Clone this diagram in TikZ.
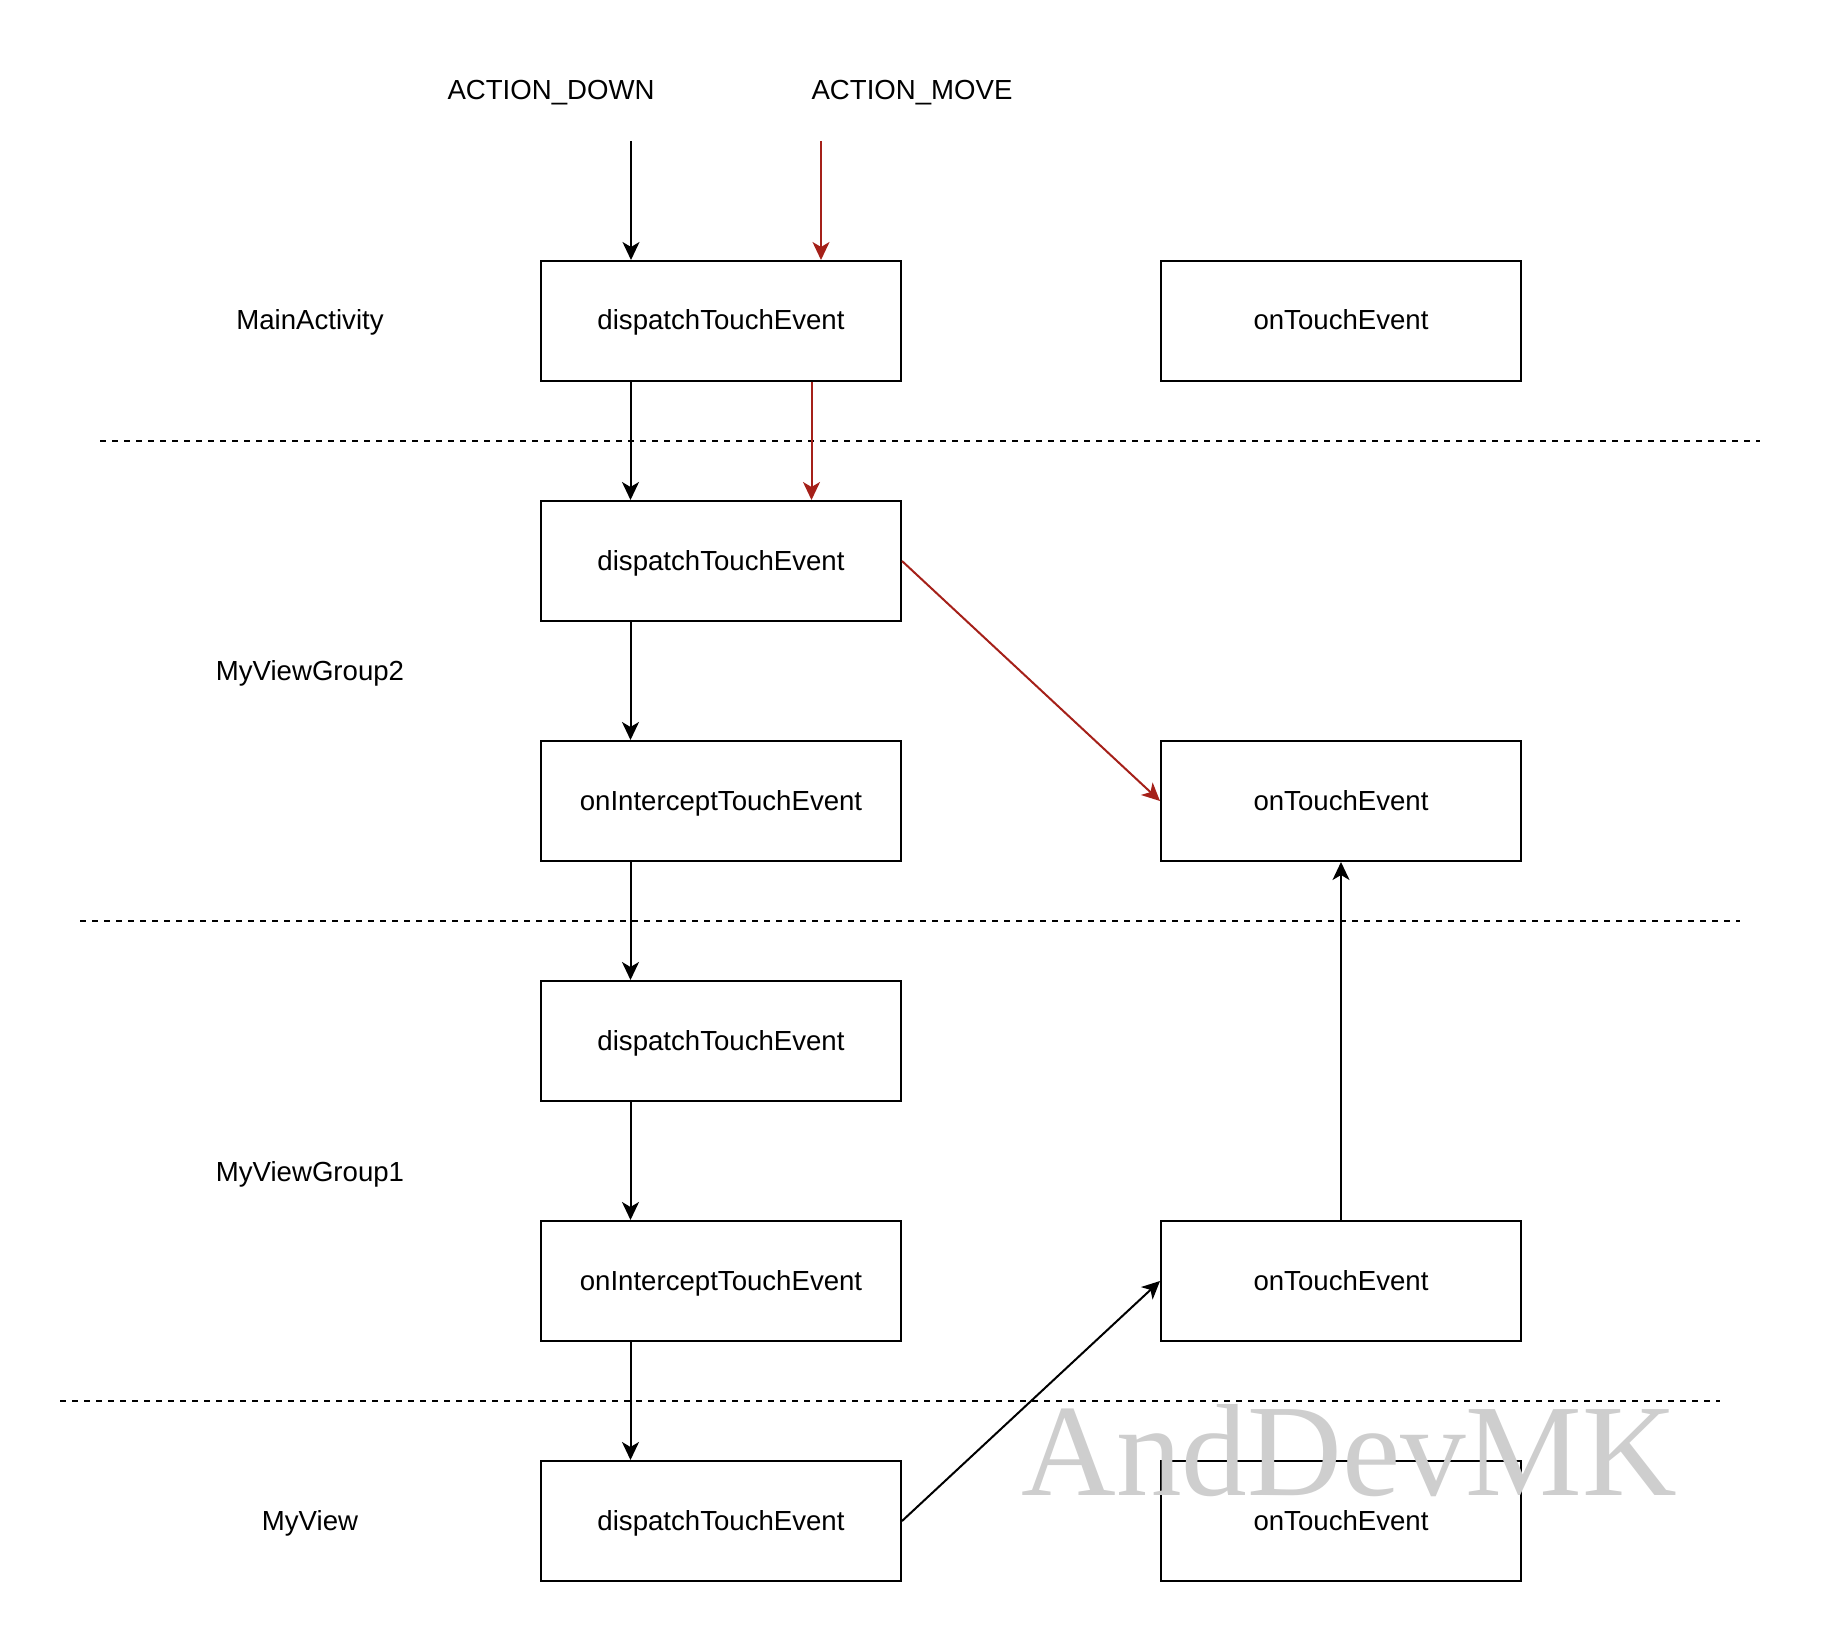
\documentclass[tikz,border=0pt]{standalone}
\usepackage{fontspec}
\setmainfont{Liberation Sans}
\newfontfamily\wmfont{Liberation Serif}
\usetikzlibrary{arrows.meta,calc}
\definecolor{arrred}{RGB}{165,32,25}
\definecolor{wmgray}{RGB}{206,206,206}
\tikzset{
  fnbox/.style={draw=black, line width=1pt, rectangle, minimum width=180pt, minimum height=60pt, inner sep=0pt, text height=9.5pt, text depth=0.5pt, font=\fontsize{13.8pt}{16pt}\selectfont},
  lbl/.style={inner sep=0pt, text height=9.5pt, text depth=0.5pt, font=\fontsize{13.8pt}{16pt}\selectfont},
  arr/.style={line width=1pt, -{Stealth[length=9pt,width=8.5pt,inset=2.5pt]}},
  redarr/.style={arr, draw=arrred, color=arrred},
  sep/.style={line width=1pt, dash pattern=on 3pt off 3pt}
}
\begin{document}
\begin{tikzpicture}[x=0.5pt,y=-0.5pt]
\useasboundingbox (0,0) rectangle (1824,1642);
% left column
\node[fnbox] (b1) at (721,321) {dispatchTouchEvent};
\node[fnbox] (b2) at (721,561) {dispatchTouchEvent};
\node[fnbox] (b3) at (721,801) {onInterceptTouchEvent};
\node[fnbox] (b4) at (721,1041) {dispatchTouchEvent};
\node[fnbox] (b5) at (721,1281) {onInterceptTouchEvent};
\node[fnbox] (b6) at (721,1521) {dispatchTouchEvent};
% right column
\node[fnbox] (r1) at (1341,321) {onTouchEvent};
\node[fnbox] (r3) at (1341,801) {onTouchEvent};
\node[fnbox] (r5) at (1341,1281) {onTouchEvent};
\node[fnbox] (r6) at (1341,1521) {onTouchEvent};
% layer labels
\node[lbl] (lma) at (310,321) {MainActivity};
\node[lbl] (lg2) at (310,671) {MyViewGroup2};
\node[lbl] (lg1) at (310,1172) {MyViewGroup1};
\node[lbl] (lmv) at (310,1521) {MyView};
% event labels
\node[lbl] (ad) at (551,91) {ACTION\_DOWN};
\node[lbl] (am) at (912,91) {ACTION\_MOVE};
\coordinate (sd) at (631,141);
\coordinate (sm) at (821,141);
% separators
\draw[sep] (100,441) -- (1760,441);
\draw[sep] (80,921) -- (1740,921);
\draw[sep] (60,1401) -- (1720,1401);
% black arrows
\draw[arr] (sd) -- (sd |- b1.north);
\draw[arr] ($(b1.south west)!0.25!(b1.south east)$) -- ($(b2.north west)!0.25!(b2.north east)$);
\draw[arr] ($(b2.south west)!0.25!(b2.south east)$) -- ($(b3.north west)!0.25!(b3.north east)$);
\draw[arr] ($(b3.south west)!0.25!(b3.south east)$) -- ($(b4.north west)!0.25!(b4.north east)$);
\draw[arr] ($(b4.south west)!0.25!(b4.south east)$) -- ($(b5.north west)!0.25!(b5.north east)$);
\draw[arr] ($(b5.south west)!0.25!(b5.south east)$) -- ($(b6.north west)!0.25!(b6.north east)$);
\draw[arr] (b6.east) -- (r5.west);
\draw[arr] (r5.north) -- (r3.south);
% red arrows
\draw[redarr] (sm) -- (sm |- b1.north);
\draw[redarr] ($(b1.south west)!0.75!(b1.south east)$) -- ($(b2.north west)!0.75!(b2.north east)$);
\draw[redarr] (b2.east) -- (r3.west);
% watermark
\node[anchor=base west, inner sep=0pt, text=wmgray, font=\wmfont\fontsize{65.6pt}{70pt}\selectfont] (wm) at (1021,1495) {AndDevMK};
\end{tikzpicture}
\end{document}
